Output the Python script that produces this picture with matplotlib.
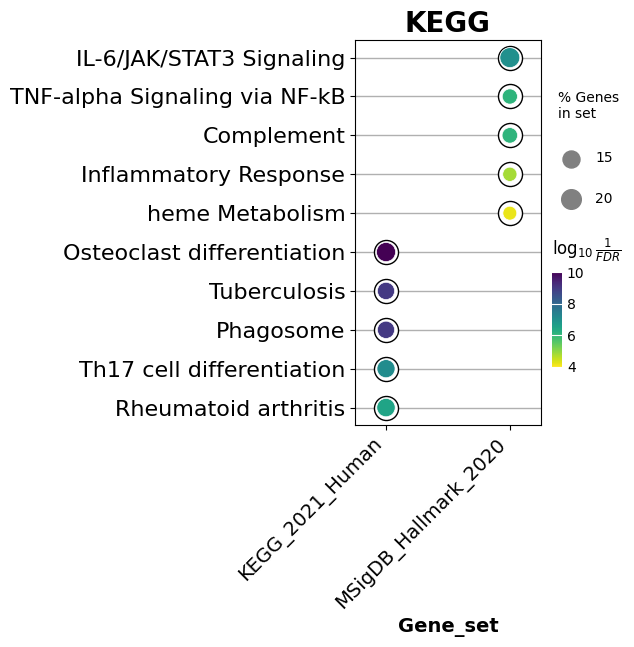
import numpy as np
import matplotlib
matplotlib.use("Agg")
import matplotlib.pyplot as plt

# --- data ---
terms = ["IL-6/JAK/STAT3 Signaling", "TNF-alpha Signaling via NF-kB", "Complement",
         "Inflammatory Response", "heme Metabolism", "Osteoclast differentiation",
         "Tuberculosis", "Phagosome", "Th17 cell differentiation", "Rheumatoid arthritis"]
gene_sets = ["KEGG_2021_Human", "MSigDB_Hallmark_2020"]
term_set = [1, 1, 1, 1, 1, 0, 0, 0, 0, 0]
log_fdr = [7.0, 6.1, 6.1, 4.8, 4.2, 10.0, 9.0, 9.0, 7.1, 6.5]
pct_genes = [20.5, 12.0, 12.5, 10.5, 10.0, 19.0, 15.5, 15.5, 17.0, 17.5]
legend_pct = [15, 20]

SCALE = 10  # marker area per % gene

fig = plt.figure(figsize=(6.34, 6.47), dpi=100)
ax = fig.add_axes([0.56, 0.343, 0.293, 0.595])

y = np.arange(len(terms))[::-1]
x = np.array(term_set)
s = np.array(pct_genes) * SCALE

ax.yaxis.grid(True, color="#b0b0b0", linewidth=1, zorder=0)
ax.set_axisbelow(True)
ax.scatter(x, y, s=300, c="white", edgecolors="black", linewidths=1, zorder=2)
sc = ax.scatter(x, y, s=s, c=log_fdr, cmap="viridis_r", vmin=4, vmax=10,
                edgecolors="white", linewidths=0.5, zorder=3)

ax.set_xlim(-0.25, 1.25)
ax.set_ylim(-0.45, 9.45)
ax.set_yticks(y)
ax.set_yticklabels(terms, fontsize=16)
ax.set_xticks([0, 1])
ax.set_xticklabels(gene_sets, fontsize=14, rotation=45, ha="right")
ax.set_xlabel("Gene_set", fontsize=14, fontweight="bold")
ax.set_title("KEGG", fontsize=20, fontweight="bold")

# colorbar
cax = fig.add_axes([552 / 634, 1 - 367 / 647, 10 / 634, 95 / 647])
cbar = fig.colorbar(sc, cax=cax, ticks=[4, 6, 8, 10])
cbar.outline.set_visible(False)
cbar.ax.tick_params(labelsize=10, direction="in", color="white", length=10)
cbar.ax.set_title(r"$\log_{10}\frac{1}{FDR}$", fontsize=12, loc="left", pad=12)

# size legend
handles = [ax.scatter([], [], s=p * SCALE, c="grey") for p in legend_pct]
leg = fig.legend(handles, [str(p) for p in legend_pct], title="% Genes\nin set",
                 loc="upper left", bbox_to_anchor=(552 / 634, 1 - 85 / 647),
                 frameon=False, fontsize=10, title_fontsize=10,
                 labelspacing=1.9, handletextpad=0.7, borderaxespad=0)
leg._legend_box.align = "left"
leg._legend_box.sep = 22

fig.savefig("out.png", dpi=100)
